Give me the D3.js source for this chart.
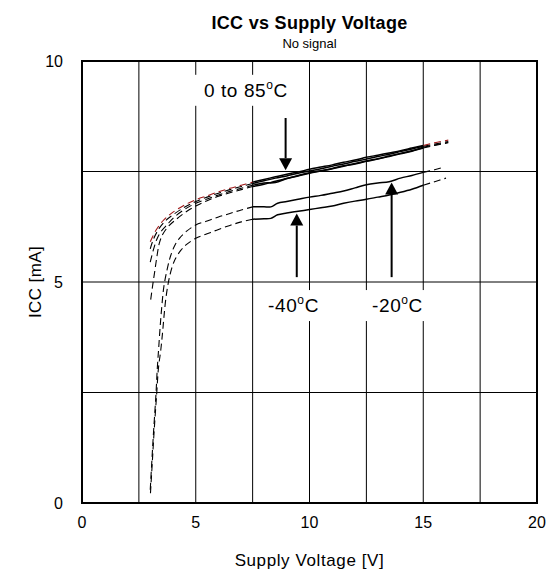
<!DOCTYPE html>
<html>
<head>
<meta charset="utf-8">
<script src="https://cdn.jsdelivr.net/npm/d3@7"></script>
<style>
  html, body { margin: 0; padding: 0; background: #fff; }
  svg { display: block; font-family: "Liberation Sans", Arial, sans-serif; }
</style>
</head>
<body>
<svg id="chart" width="549" height="577"></svg>
<script>
// Supply current vs supply voltage, no input signal, per temperature.
// Each series: [supply voltage V, ICC mA]
const xTicks = [0, 5, 10, 15, 20];
const yTicks = [0, 5, 10];
const xGrid = [2.5, 5, 7.5, 10, 12.5, 15, 17.5];
const yGrid = [2.5, 5, 7.5];

const icc85 = [
  [3.0, 5.91], [3.25, 6.17], [3.55, 6.38], [3.8, 6.5], [4.0, 6.58], [4.5, 6.74], [5.0, 6.86],
  [5.5, 6.95], [6.0, 7.04], [6.5, 7.12], [7.0, 7.19], [7.5, 7.26],
  [8.0, 7.32], [8.5, 7.38], [9.0, 7.44], [9.5, 7.49], [10.0, 7.55], [10.5, 7.60], [11.0, 7.65],
  [11.5, 7.71], [12.0, 7.76], [12.5, 7.82], [13.0, 7.87], [13.5, 7.92], [14.0, 7.97], [14.5, 8.03],
  [15.0, 8.09], [15.5, 8.15], [16.1, 8.21]
];
const icc50 = [
  [3.0, 5.75], [3.15, 5.98], [3.4, 6.22], [3.7, 6.4], [4.0, 6.52], [4.5, 6.69], [5.0, 6.82],
  [5.5, 6.92], [6.0, 7.01], [6.5, 7.09], [7.0, 7.16], [7.5, 7.23],
  [8.0, 7.29], [8.5, 7.35], [9.0, 7.40], [9.5, 7.46], [10.0, 7.51], [10.5, 7.56], [11.0, 7.62],
  [11.5, 7.67], [12.0, 7.73], [12.5, 7.78], [13.0, 7.84], [13.5, 7.89], [14.0, 7.95], [14.5, 8.01],
  [15.0, 8.07], [15.5, 8.12], [16.1, 8.18]
];
const icc25 = [
  [3.0, 5.45], [3.15, 5.75], [3.3, 5.98], [3.5, 6.16], [3.75, 6.3], [4.0, 6.44], [4.5, 6.64], [5.0, 6.78],
  [5.5, 6.88], [6.0, 6.97], [6.5, 7.05], [7.0, 7.12], [7.5, 7.19],
  [8.0, 7.24], [8.5, 7.25], [9.0, 7.34], [9.5, 7.41], [10.0, 7.47], [10.5, 7.52], [11.0, 7.57],
  [11.5, 7.63], [12.0, 7.68], [12.5, 7.74], [13.0, 7.79], [13.5, 7.85], [14.0, 7.91], [14.5, 7.97],
  [15.0, 8.05], [15.5, 8.10], [16.1, 8.16]
];
const icc0 = [
  [3.02, 4.6], [3.1, 4.9], [3.2, 5.25], [3.3, 5.6], [3.4, 5.88], [3.55, 6.08], [3.8, 6.26], [4.1, 6.4],
  [4.5, 6.56], [5.0, 6.72], [5.5, 6.84], [6.0, 6.94], [6.5, 7.02], [7.0, 7.09], [7.5, 7.16],
  [8.0, 7.21], [8.5, 7.28], [9.0, 7.34], [9.5, 7.40], [10.0, 7.46], [10.5, 7.51], [11.0, 7.56],
  [11.5, 7.62], [12.0, 7.67], [12.5, 7.73], [13.0, 7.78], [13.5, 7.84], [14.0, 7.90], [14.5, 7.96],
  [15.0, 8.03], [15.5, 8.09], [16.1, 8.15]
];
const iccM20 = [
  [3.0, 0.3], [3.07, 0.95], [3.15, 1.65], [3.25, 2.45], [3.31, 3.05], [3.37, 3.5], [3.43, 3.95],
  [3.5, 4.4], [3.6, 4.9], [3.75, 5.3], [3.9, 5.6], [4.1, 5.85], [4.3, 6.0], [4.6, 6.15], [5.0, 6.29],
  [5.5, 6.38], [6.0, 6.47], [6.5, 6.55], [7.0, 6.63], [7.5, 6.70],
  [8.0, 6.70], [8.3, 6.70], [8.6, 6.78], [9.0, 6.82], [9.5, 6.87], [10.0, 6.92], [10.5, 6.96],
  [11.0, 7.01], [11.5, 7.06], [12.0, 7.13], [12.5, 7.20], [13.0, 7.24], [13.5, 7.27], [14.0, 7.35],
  [14.5, 7.41], [15.0, 7.48], [15.5, 7.54], [15.85, 7.59]
];
const iccM40 = [
  [3.01, 0.22], [3.09, 0.92], [3.17, 1.62], [3.28, 2.45], [3.36, 3.05], [3.46, 3.45], [3.54, 3.85],
  [3.6, 4.2], [3.68, 4.6], [3.8, 5.0], [3.95, 5.32], [4.1, 5.52], [4.35, 5.72], [4.6, 5.85], [5.0, 5.99],
  [5.5, 6.09], [6.0, 6.19], [6.5, 6.28], [7.0, 6.36], [7.5, 6.42],
  [8.0, 6.43], [8.3, 6.44], [8.6, 6.52], [9.0, 6.56], [9.5, 6.60], [10.0, 6.64], [10.5, 6.68],
  [11.0, 6.72], [11.5, 6.78], [12.0, 6.83], [12.5, 6.87], [13.0, 6.92], [13.5, 6.97], [14.0, 7.03],
  [14.5, 7.10], [15.0, 7.19], [15.5, 7.27], [16.0, 7.35]
];

const seriesList = [iccM40, iccM20, icc0, icc25, icc50, icc85];
// colour of the dashed (extrapolated) ends per series
const dashColors = ["#000", "#000", "#000", "#000", "#000", "#a01818"];

// region measured directly (solid); outside it the curve is dashed
const measuredFrom = 7.5, measuredTo = 15;

// annotation layout, in data units
const labelTexts = [["0 to 85", "C"], ["-40", "C"], ["-20", "C"]];
const labelPos = [[5.36, 9.19], [8.18, 4.32], [12.75, 4.32]];
const arrows = [ // x, from, to (mA)
  [8.95, 8.71, 7.53],
  [9.44, 5.11, 6.55],
  [13.61, 5.11, 7.25]
];

const svg = d3.select("#chart");
const x = d3.scaleLinear().domain([0, 20]).range([82, 537]);
const y = d3.scaleLinear().domain([0, 10]).range([503, 61]);

// grid
svg.append("g").selectAll("line").data(xGrid).join("line")
  .attr("x1", d => x(d)).attr("x2", d => x(d))
  .attr("y1", y(0)).attr("y2", y(10))
  .attr("stroke", "#000").attr("stroke-width", 1);
svg.append("g").selectAll("line").data(yGrid).join("line")
  .attr("x1", x(0)).attr("x2", x(20))
  .attr("y1", d => y(d)).attr("y2", d => y(d))
  .attr("stroke", "#000").attr("stroke-width", 1);

// curves
const line = d3.line().x(d => x(d[0])).y(d => y(d[1])).curve(d3.curveCatmullRom.alpha(0.5));
const gCurves = svg.append("g").attr("fill", "none");
seriesList.forEach((s, i) => {
  const low = s.filter(d => d[0] <= measuredFrom);
  const mid = s.filter(d => d[0] >= measuredFrom && d[0] <= measuredTo);
  const high = s.filter(d => d[0] >= measuredTo);
  [low, high].forEach(seg => {
    gCurves.append("path").attr("d", line(seg))
      .attr("stroke", dashColors[i]).attr("stroke-width", 1.1)
      .attr("stroke-dasharray", "7,4");
  });
  gCurves.append("path").attr("d", line(mid))
    .attr("stroke", "#000").attr("stroke-width", 1.5);
});

// arrows
const gArrows = svg.append("g");
arrows.forEach(([ax, from, to]) => {
  const px = x(ax), y0 = y(from), y1 = y(to);
  const dir = Math.sign(y1 - y0);
  const headLen = 12, headW = 6.5;
  gArrows.append("line")
    .attr("x1", px).attr("x2", px).attr("y1", y0).attr("y2", y1 - dir * headLen)
    .attr("stroke", "#000").attr("stroke-width", 2);
  gArrows.append("path")
    .attr("d", `M${px},${y1}L${px - headW},${y1 - dir * headLen}L${px + headW},${y1 - dir * headLen}Z`)
    .attr("fill", "#000");
});

// temperature labels on white boxes
const gLabels = svg.append("g");
labelTexts.forEach((t, i) => {
  const g = gLabels.append("g");
  const rect = g.append("rect").attr("fill", "#fff");
  const txt = g.append("text")
    .attr("x", x(labelPos[i][0])).attr("y", y(labelPos[i][1]))
    .attr("font-size", 19).attr("letter-spacing", 0.6).attr("fill", "#000");
  txt.append("tspan").text(t[0]);
  txt.append("tspan").attr("font-size", 12).attr("dy", -8).text("o");
  txt.append("tspan").attr("dy", 8).text(t[1]);
  const b = txt.node().getBBox();
  rect.attr("x", b.x - 12).attr("y", b.y - 3).attr("width", b.width + 18).attr("height", b.height + 8);
});

// frame
svg.append("rect")
  .attr("x", x(0)).attr("y", y(10)).attr("width", x(20) - x(0)).attr("height", y(0) - y(10))
  .attr("fill", "none").attr("stroke", "#000").attr("stroke-width", 2);

// tick labels
svg.append("g").selectAll("text").data(xTicks).join("text")
  .attr("x", d => x(d)).attr("y", 528).attr("text-anchor", "middle")
  .attr("font-size", 16).text(d => d);
svg.append("g").selectAll("text").data(yTicks).join("text")
  .attr("x", 63).attr("y", d => y(d) + 6).attr("text-anchor", "end")
  .attr("font-size", 16).text(d => d);

// axis titles
svg.append("text").attr("x", (x(0) + x(20)) / 2).attr("y", 566)
  .attr("text-anchor", "middle").attr("font-size", 17).attr("letter-spacing", 0.6)
  .text("Supply Voltage [V]");
svg.append("text")
  .attr("transform", `translate(41,${(y(0) + y(10)) / 2}) rotate(-90)`)
  .attr("text-anchor", "middle").attr("font-size", 17).attr("letter-spacing", 0.4)
  .text("ICC [mA]");

// title
svg.append("text").attr("x", (x(0) + x(20)) / 2).attr("y", 29)
  .attr("text-anchor", "middle").attr("font-size", 18).attr("font-weight", "bold")
  .attr("letter-spacing", 0.3).text("ICC vs Supply Voltage");
svg.append("text").attr("x", (x(0) + x(20)) / 2).attr("y", 48)
  .attr("text-anchor", "middle").attr("font-size", 13).text("No signal");
</script>
</body>
</html>
